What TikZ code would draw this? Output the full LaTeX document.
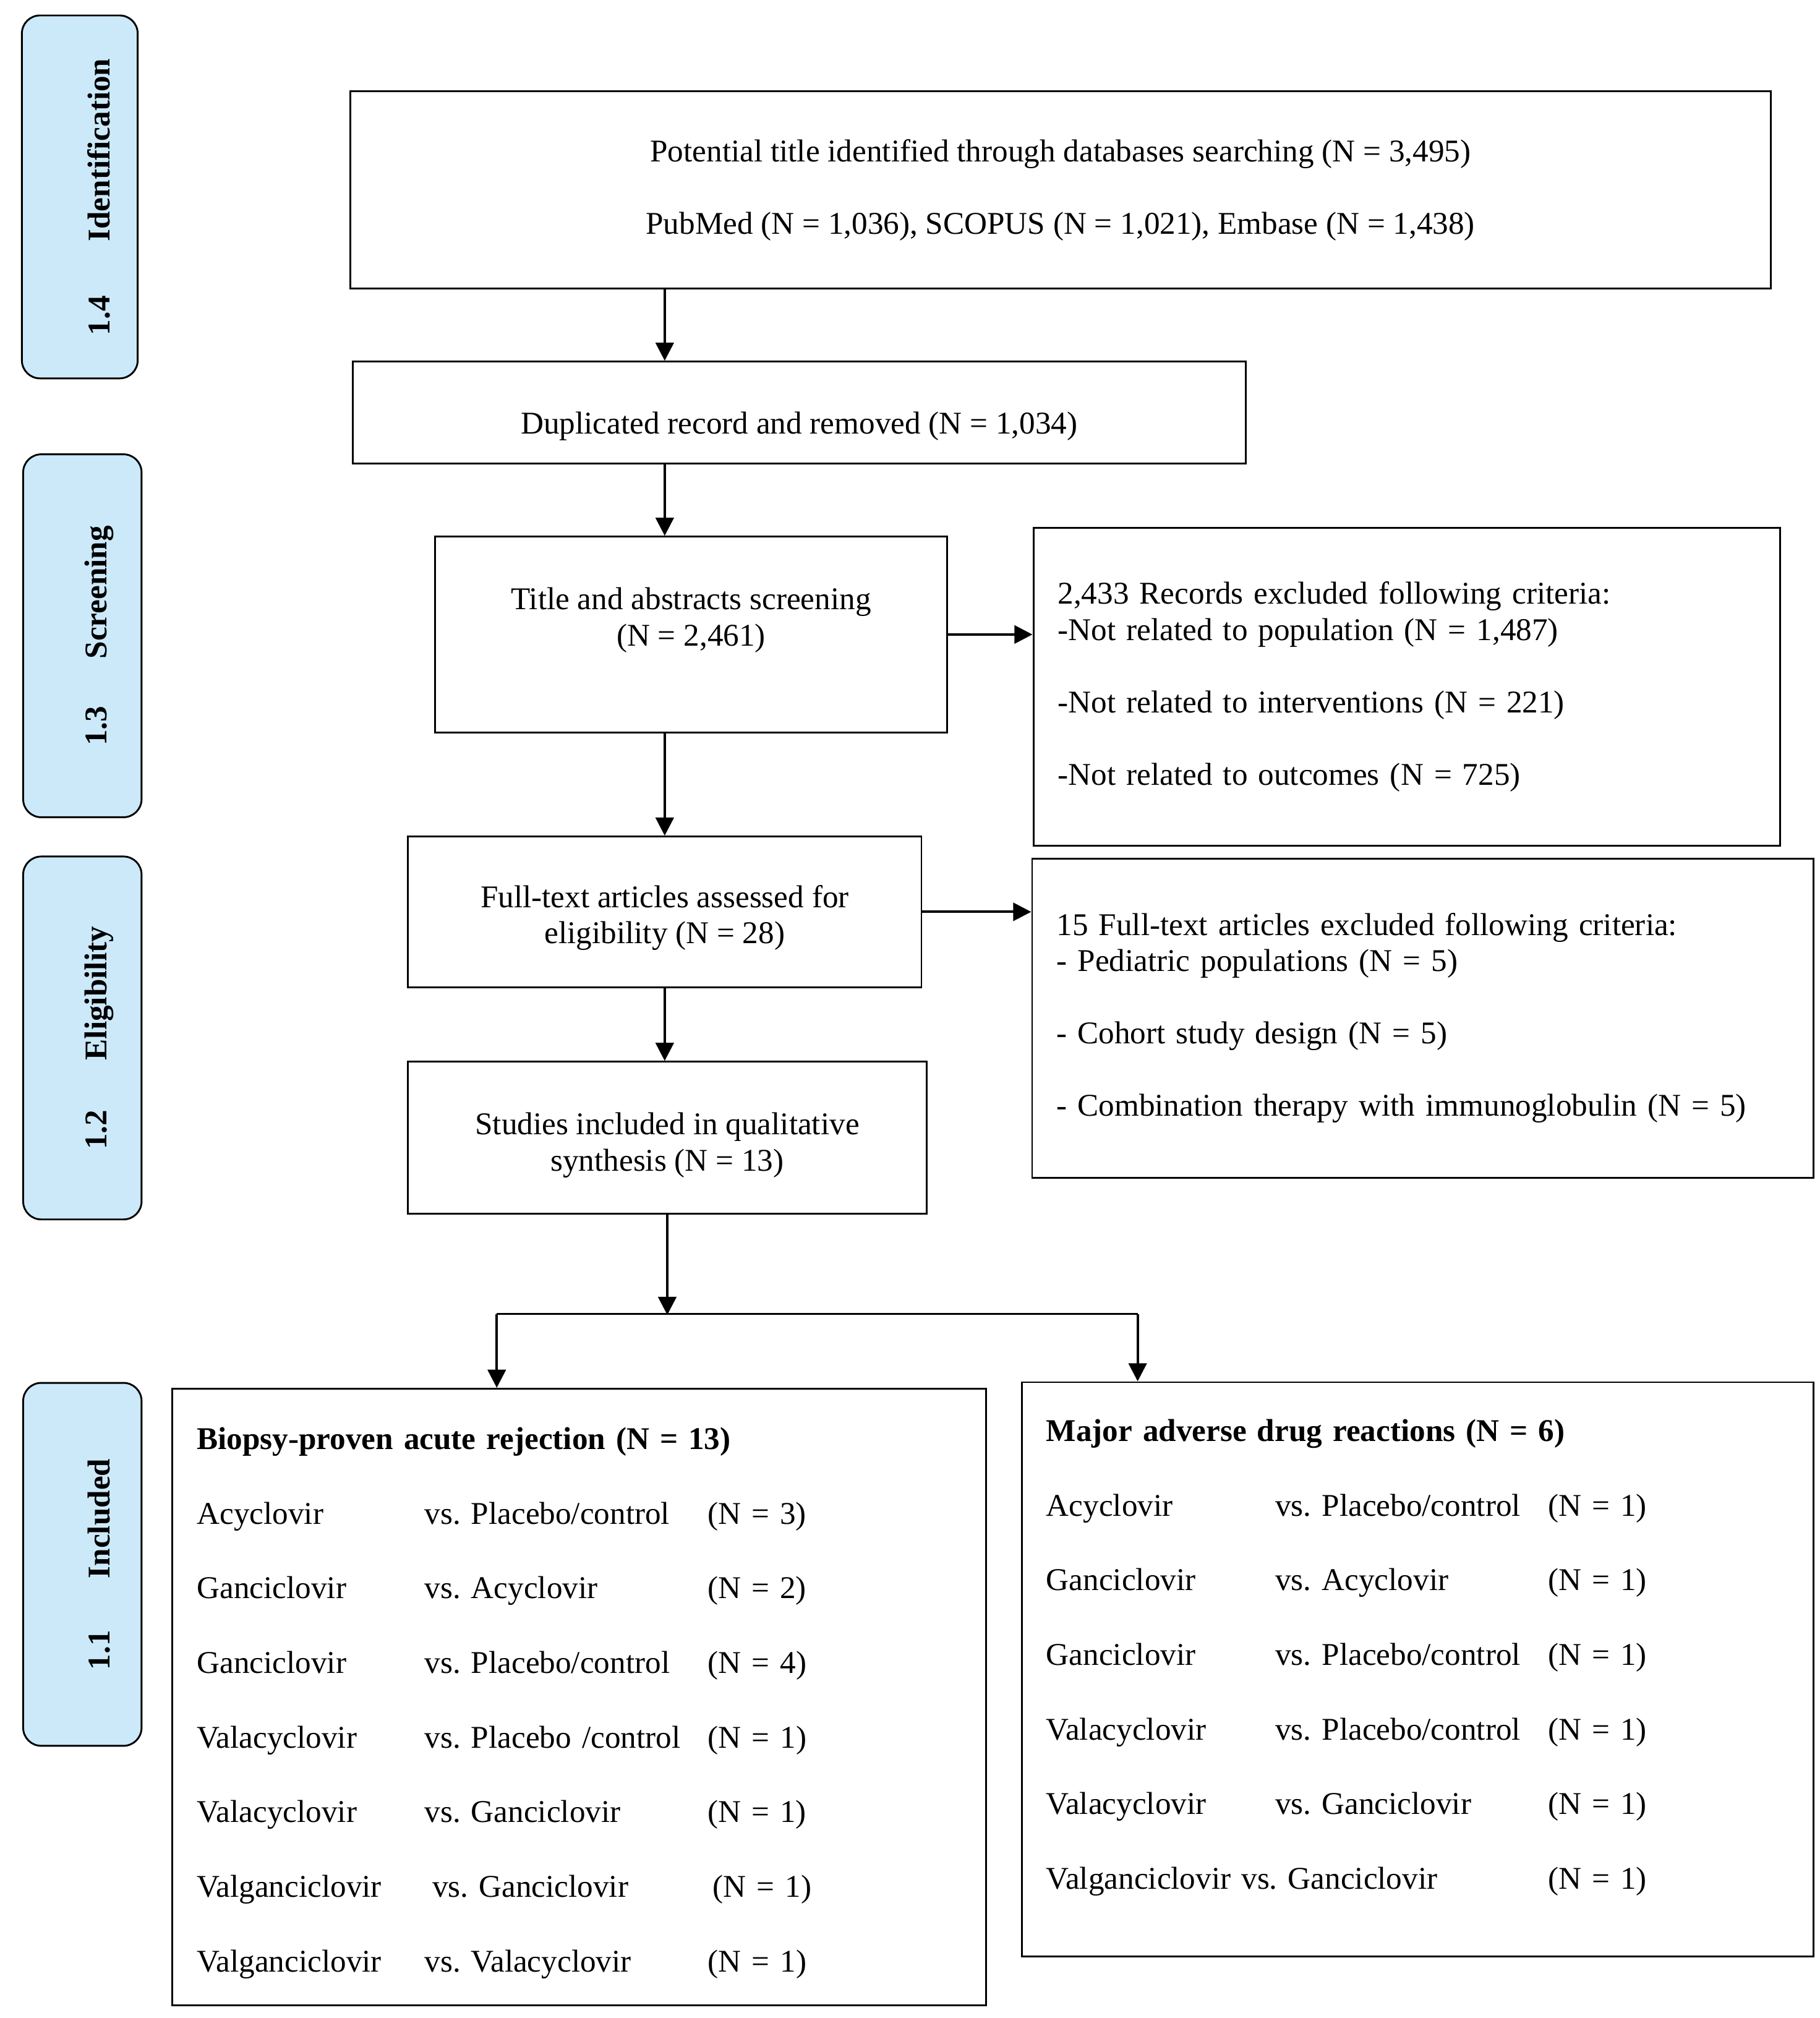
\documentclass[tikz,border=0pt]{standalone}
\usepackage{fontspec}
\setmainfont{Liberation Serif}
\usetikzlibrary{arrows.meta,positioning}
\definecolor{stageblue}{RGB}{204,233,250}
\newlength{\dpx}
\setlength{\dpx}{0.02cm}
\frenchspacing

\begin{document}
\begin{tikzpicture}[
		x=0.02cm, y=-0.02cm,
		line width=0.8pt,
		font=\fontsize{14}{16}\selectfont,
		block/.style={draw, fill=white, align=center, inner sep=0pt},
		listbox/.style={draw, fill=white, align=left, inner ysep=0pt, inner xsep=19\dpx},
		stage/.style={draw, fill=stageblue, rounded corners=8pt, inner sep=0pt, minimum width=92\dpx, minimum height=282\dpx},
		stagetext/.style={rotate=90, font=\fontsize{14}{16}\selectfont\bfseries},
		arrow/.style={line width=1.1pt, -{Triangle[length=8pt,width=8pt]}},
	]
		\useasboundingbox (0,0) rectangle (1414,1568);

		% stages
		\node[stage, minimum width=90\dpx] (idbox) at (62,153) {};
		\node[stagetext] (idlab) at ([xshift=15\dpx]idbox.center) {1.4\hspace{24pt}Identification};
		\node[stage] (scbox) at (64,494) {};
		\node[stagetext] (sclab) at ([xshift=13\dpx]scbox.center) {1.3\hspace{21pt}Screening};
		\node[stage] (elbox) at (64,806.5) {};
		\node[stagetext] (ellab) at ([xshift=13\dpx]elbox.center) {1.2\hspace{22pt}Eligibility};
		\node[stage] (inbox) at (64,1215.5) {};
		\node[stagetext] (inlab) at ([xshift=13\dpx]inbox.center) {1.1\hspace{23pt}Included};

		% flow
		\node[block, minimum width=1104\dpx, minimum height=153\dpx] (search) at (824,147.5)
			{Potential title identified through databases searching (N = 3,495)\\[16pt]PubMed (N = 1,036), SCOPUS (N = 1,021), Embase (N = 1,438)};
		\node[block, minimum width=694\dpx, minimum height=79\dpx, text height=22pt, text depth=3pt] (dup) at (621,320.5)
			{Duplicated record and removed (N = 1,034)};
		\node[block, minimum width=398\dpx, minimum height=152\dpx, text depth=15.6pt] (screen) at (537,493)
			{Title and abstracts screening\\(N = 2,461)};
		\node[listbox, text width=542\dpx, minimum height=247\dpx] (excl1) at (1093,533.5)
			{2,433 Records excluded following criteria:\\-Not related to population (N = 1,487)\\[16pt]-Not related to interventions (N = 221)\\[16pt]-Not related to outcomes (N = 725)};
		\node[block, minimum width=399\dpx, minimum height=117\dpx, text height=31.2pt] (fulltext) at (516.5,708.5)
			{Full-text articles assessed for\\eligibility (N = 28)};
		\node[listbox, text width=569\dpx, minimum height=248\dpx] (excl2) at (1105.5,791)
			{15 Full-text articles excluded following criteria:\\- Pediatric populations (N = 5)\\[16pt]- Cohort study design (N = 5)\\[16pt]- Combination therapy with immunoglobulin (N = 5)};
		\node[block, minimum width=403\dpx, minimum height=118\dpx, text height=32.4pt] (studies) at (518.5,884)
			{Studies included in qualitative\\synthesis (N = 13)};
		\coordinate[below=78\dpx of studies] (split);
		\coordinate (lt) at (386,1021);
		\coordinate (rt) at (884,1021);

		\node[listbox, text width=594\dpx, minimum height=479\dpx] (bpar) at (450,1318.5) {%
			\begin{tabular}{@{}p{100.7pt}@{}p{125.2pt}@{}l@{}}
				\multicolumn{3}{@{}l@{}}{\rule{0pt}{16.8pt}\bfseries Biopsy-proven acute rejection (N = 13)}\\[17pt]
				Acyclovir & vs. Placebo/control & (N = 3)\\[17pt]
				Ganciclovir & vs. Acyclovir & (N = 2)\\[17pt]
				Ganciclovir & vs. Placebo/control & (N = 4)\\[17pt]
				Valacyclovir & vs. Placebo /control & (N = 1)\\[17pt]
				Valacyclovir & vs. Ganciclovir & (N = 1)\\[17pt]
				Valganciclovir & \hspace{3.4pt}vs. Ganciclovir & \hspace{2.3pt}(N = 1)\\[17pt]
				Valganciclovir & vs. Valacyclovir & (N = 1)
			\end{tabular}};
		\node[listbox, text width=577\dpx, minimum height=446\dpx] (adr) at (1101.5,1297) {%
			\begin{tabular}{@{}p{101.3pt}@{}p{120.6pt}@{}l@{}}
				\multicolumn{3}{@{}l@{}}{\bfseries Major adverse drug reactions (N = 6)}\\[17pt]
				Acyclovir & vs. Placebo/control & (N = 1)\\[17pt]
				Ganciclovir & vs. Acyclovir & (N = 1)\\[17pt]
				Ganciclovir & vs. Placebo/control & (N = 1)\\[17pt]
				Valacyclovir & vs. Placebo/control & (N = 1)\\[17pt]
				Valacyclovir & vs. Ganciclovir & (N = 1)\\[17pt]
				\multicolumn{2}{@{}p{221.9pt}@{}}{Valganciclovir vs. Ganciclovir} & (N = 1)\\[10pt]
			\end{tabular}};

		\draw[arrow] (fulltext |- search.south) -- (fulltext |- dup.north);
		\draw[arrow] (fulltext |- dup.south) -- (fulltext |- screen.north);
		\draw[arrow] (fulltext |- screen.south) -- (fulltext.north);
		\draw[arrow] (screen.east) -- (screen.east -| excl1.west);
		\draw[arrow] (fulltext.east) -- (fulltext.east -| excl2.west);
		\draw[arrow] (fulltext.south) -- (fulltext |- studies.north);
		\draw[arrow] (studies.south) -- (split);
		\draw (lt) -- (rt);
		\draw[arrow] (lt) -- (lt |- bpar.north);
		\draw[arrow] (rt) -- (rt |- adr.north);
	\end{tikzpicture}
\end{document}
